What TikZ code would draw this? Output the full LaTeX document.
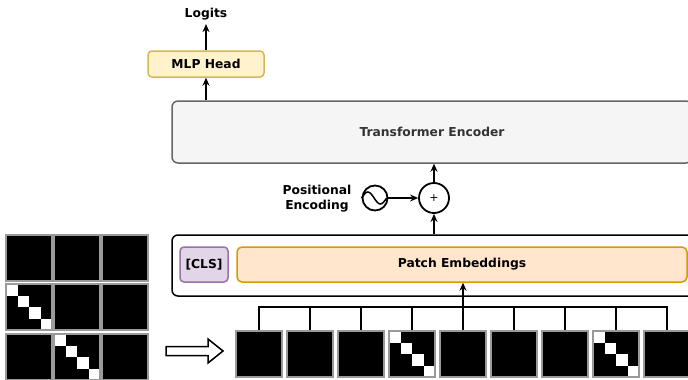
\documentclass[tikz,border=0pt]{standalone}
\usepackage{fontspec}
\setmainfont{DejaVu Sans}
\usetikzlibrary{arrows.meta,calc}
\definecolor{mlpfill}{HTML}{FFF2CC}
\definecolor{mlpdraw}{HTML}{D6B656}
\definecolor{clsfill}{HTML}{E1D5E7}
\definecolor{clsdraw}{HTML}{9673A6}
\definecolor{pefill}{HTML}{FFE6CC}
\definecolor{pedraw}{HTML}{D79B00}
\definecolor{encfill}{HTML}{F5F5F5}
\definecolor{encdraw}{HTML}{666666}
\definecolor{enctext}{HTML}{333333}
\definecolor{cellgrey}{HTML}{9A9A9A}
\begin{document}
\begin{tikzpicture}[x=1pt,y=-1pt,
  font=\fontsize{12.3}{15}\selectfont\bfseries,
  line width=1.5pt,
  >={Stealth[length=8pt,width=7pt]},
  cell/.style={draw=cellgrey, fill=black, minimum size=46pt, inner sep=0pt, line width=1.3pt},
  diag/.style={cell, path picture={\foreach \k in {0,...,3}{\fill[white] ($(path picture bounding box.north west)+(\k*11.5,\k*11.5)$) rectangle ++(11.5,11.5);}}},
  box/.style={draw, rounded corners=6pt, inner sep=0pt},
  ring/.style={circle, draw, line width=1.8pt, inner sep=0pt}
]
\useasboundingbox (0,0) rectangle (688,380);
\clip (0,0) rectangle (688,380);

% top
\node (logits) at (206,14) {Logits};
\node[box, rounded corners=4pt, fill=mlpfill, draw=mlpdraw, minimum width=116pt, minimum height=26pt] (mlp) at (206,64) {MLP Head};
\node[box, fill=encfill, draw=encdraw, text=enctext, minimum width=520pt, minimum height=62pt] (enc) at (432,132) {Transformer Encoder};

% positional encoding
\node[align=center] (petext) at (317,199) {Positional\\Encoding};
\node[ring, minimum size=25pt] (pe) at (375,198) {};
\draw[line width=1.5pt] (pe.west) sin ++(6.25,-6) cos ++(6.25,6) sin ++(6.25,6) cos ++(6.25,-6);
\node[ring, minimum size=30pt, font=\fontsize{11}{11}\selectfont] (plus) at (434,198) {+};

% embedding container
\node[box, fill=white, minimum width=523pt, minimum height=61pt] (emb) at (433.5,265.5) {};
\node[box, rounded corners=4pt, fill=clsfill, draw=clsdraw, minimum width=48pt, minimum height=35pt] (cls) at (204,264.5) {[CLS]};
\node[box, rounded corners=5pt, fill=pefill, draw=pedraw, minimum width=450pt, minimum height=35pt] (pemb) at (462,264.5) {Patch Embeddings};

% arrows top
\draw[->] (mlp.south |- enc.north) -- (mlp.south);
\draw[->] (mlp.north) -- (logits.south);
\draw[->] (pe.east) -- (plus.west);
\draw[->] (plus.north) -- (plus.north |- enc.south);
\draw[->] (plus.south |- emb.north) -- (plus.south);

% left image grid
\node[cell] (g11) at (29,258) {};
\node[cell] (g12) at (77,258) {};
\node[cell] (g13) at (125,258) {};
\node[diag] (g21) at (29,307) {};
\node[cell] (g22) at (77,307) {};
\node[cell] (g23) at (125,307) {};
\node[cell] (g31) at (29,357) {};
\node[diag] (g32) at (77,357) {};
\node[cell] (g33) at (125,357) {};

% hollow arrow
\draw[line width=1.5pt, fill=white] (166,346.5) -- (208,346.5) -- (208,339) -- (223,351) -- (208,363) -- (208,355.5) -- (166,355.5) -- cycle;

% patch sequence
\foreach \s [count=\n] in {cell,cell,cell,diag,cell,cell,cell,diag,cell}
  \node[\s] (p\n) at ({208+51*\n},354) {};

\coordinate (bus) at (0,307);
\draw (p1.north) -- (p1.north |- bus) -- (p9.north |- bus) -- (p9.north);
\foreach \n in {2,3,4,6,7,8}
  \draw (p\n.north) -- (p\n.north |- bus);
\draw[->] (p5.north) -- (p5.north |- pemb.south);
\end{tikzpicture}
\end{document}
